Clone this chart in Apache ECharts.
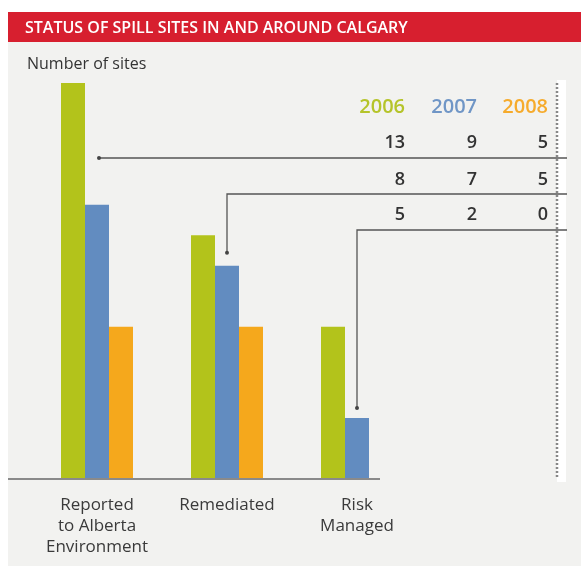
<!DOCTYPE html>
<html>
<head>
<meta charset="utf-8">
<script src="https://cdn.jsdelivr.net/npm/echarts@6/dist/echarts.min.js"></script>
<style>
  html, body { margin: 0; padding: 0; background: #fff; }
  #main { width: 581px; height: 569px; }
</style>
</head>
<body>
<div id="main"></div>
<script>
const title = 'STATUS OF SPILL SITES IN AND AROUND CALGARY';
const categories = ['Reported\nto Alberta\nEnvironment', 'Remediated', 'Risk\nManaged'];
const years = ['2006', '2007', '2008'];
const sites2006 = [13, 8, 5];
const sites2007 = [9, 7, 2];
const sites2008 = [5, 5, 0];

const colors = ['#b3c31b', '#628cc0', '#f5a81c'];
const yearColors = ['#b5c42a', '#7096c6', '#f6ab2c'];
const font = '"Open Sans", "Noto Sans", sans-serif';

const chart = echarts.init(document.getElementById('main'));

function bar(name, data, i) {
  return {
    name: name,
    type: 'bar',
    data: data,
    barWidth: 24,
    barGap: 0,
    itemStyle: { color: colors[i] },
    z: 3
  };
}

chart.setOption({
  backgroundColor: '#fff',
  animation: false,
  grid: { left: 32, right: 159, top: 83, bottom: 90 },
  xAxis: {
    type: 'category',
    data: categories,
    axisLine: { show: false },
    axisTick: { show: false },
    axisLabel: {
      interval: 0,
      hideOverlap: false,
      margin: 16,
      color: '#3a3a3a',
      fontSize: 17,
      lineHeight: 21,
      fontFamily: font
    }
  },
  yAxis: {
    type: 'value',
    min: 0,
    max: 13,
    show: false,
    splitLine: { show: false }
  },
  series: [
    bar(years[0], sites2006, 0),
    bar(years[1], sites2007, 1),
    bar(years[2], sites2008, 2)
  ]
});

// table and connectors, placed from the axis scales
const rows = categories.map((c, i) => [sites2006[i], sites2007[i], sites2008[i]]);
const colX = [405, 477, 548];
const rowY = [143, 180, 215];
const lineRight = 567;
const g = [];

g.push({ type: 'rect', z: -10, silent: true,
  shape: { x: 8, y: 42, width: 573, height: 524 }, style: { fill: '#f2f2f0' } });
g.push({ type: 'rect', z: -9, silent: true,
  shape: { x: 557, y: 80, width: 9, height: 402 }, style: { fill: '#ffffff' } });
g.push({ type: 'rect', z: 1, silent: true,
  shape: { x: 8, y: 12, width: 573, height: 30 }, style: { fill: '#d71f2f' } });
g.push({ type: 'text', z: 2, silent: true, style: {
  text: title, x: 25, y: 28, fill: '#fff', textVerticalAlign: 'middle',
  font: '600 16px ' + font } });
g.push({ type: 'text', z: 2, silent: true, style: {
  text: 'Number of sites', x: 27, y: 64, fill: '#333', textVerticalAlign: 'middle',
  font: '16px ' + font } });

// x axis baseline
const base = chart.convertToPixel({ gridIndex: 0 }, [0, 0]);
g.push({ type: 'line', z: 4, silent: true,
  shape: { x1: 8, y1: base[1], x2: 380, y2: base[1] },
  style: { stroke: '#8a8a8a', lineWidth: 2 } });

// dotted divider
g.push({ type: 'line', z: 4, silent: true,
  shape: { x1: 557, y1: 83, x2: 557, y2: base[1] },
  style: { stroke: '#888', lineWidth: 2.5, lineDash: [2, 2] } });

years.forEach((y, j) => {
  g.push({ type: 'text', z: 5, silent: true, style: {
    text: y, x: colX[j], y: 107, fill: yearColors[j], textAlign: 'right',
    textVerticalAlign: 'middle', font: '600 20px ' + font } });
});

rows.forEach((r, i) => {
  r.forEach((v, j) => {
    g.push({ type: 'text', z: 5, silent: true, style: {
      text: String(v), x: colX[j], y: rowY[i], fill: '#333', textAlign: 'right',
      textVerticalAlign: 'middle', font: '600 18px ' + font } });
  });
  const ly = [158, 194, 230][i];
  const target = chart.convertToPixel({ gridIndex: 0 }, [i, sites2007[i]]);
  let pts;
  if (i === 0) {
    pts = [[lineRight, ly], [target[0] + 2, ly]];
  } else {
    pts = [[lineRight, ly], [target[0], ly], [target[0], target[1] - (i === 1 ? 13 : 10)]];
  }
  g.push({ type: 'polyline', z: 6, silent: true, shape: { points: pts },
    style: { stroke: '#555', lineWidth: 1.3, fill: null } });
  const end = pts[pts.length - 1];
  g.push({ type: 'circle', z: 6, silent: true, shape: { cx: end[0], cy: end[1], r: 2 },
    style: { fill: '#444' } });
});

chart.setOption({ graphic: g });
</script>
</body>
</html>
